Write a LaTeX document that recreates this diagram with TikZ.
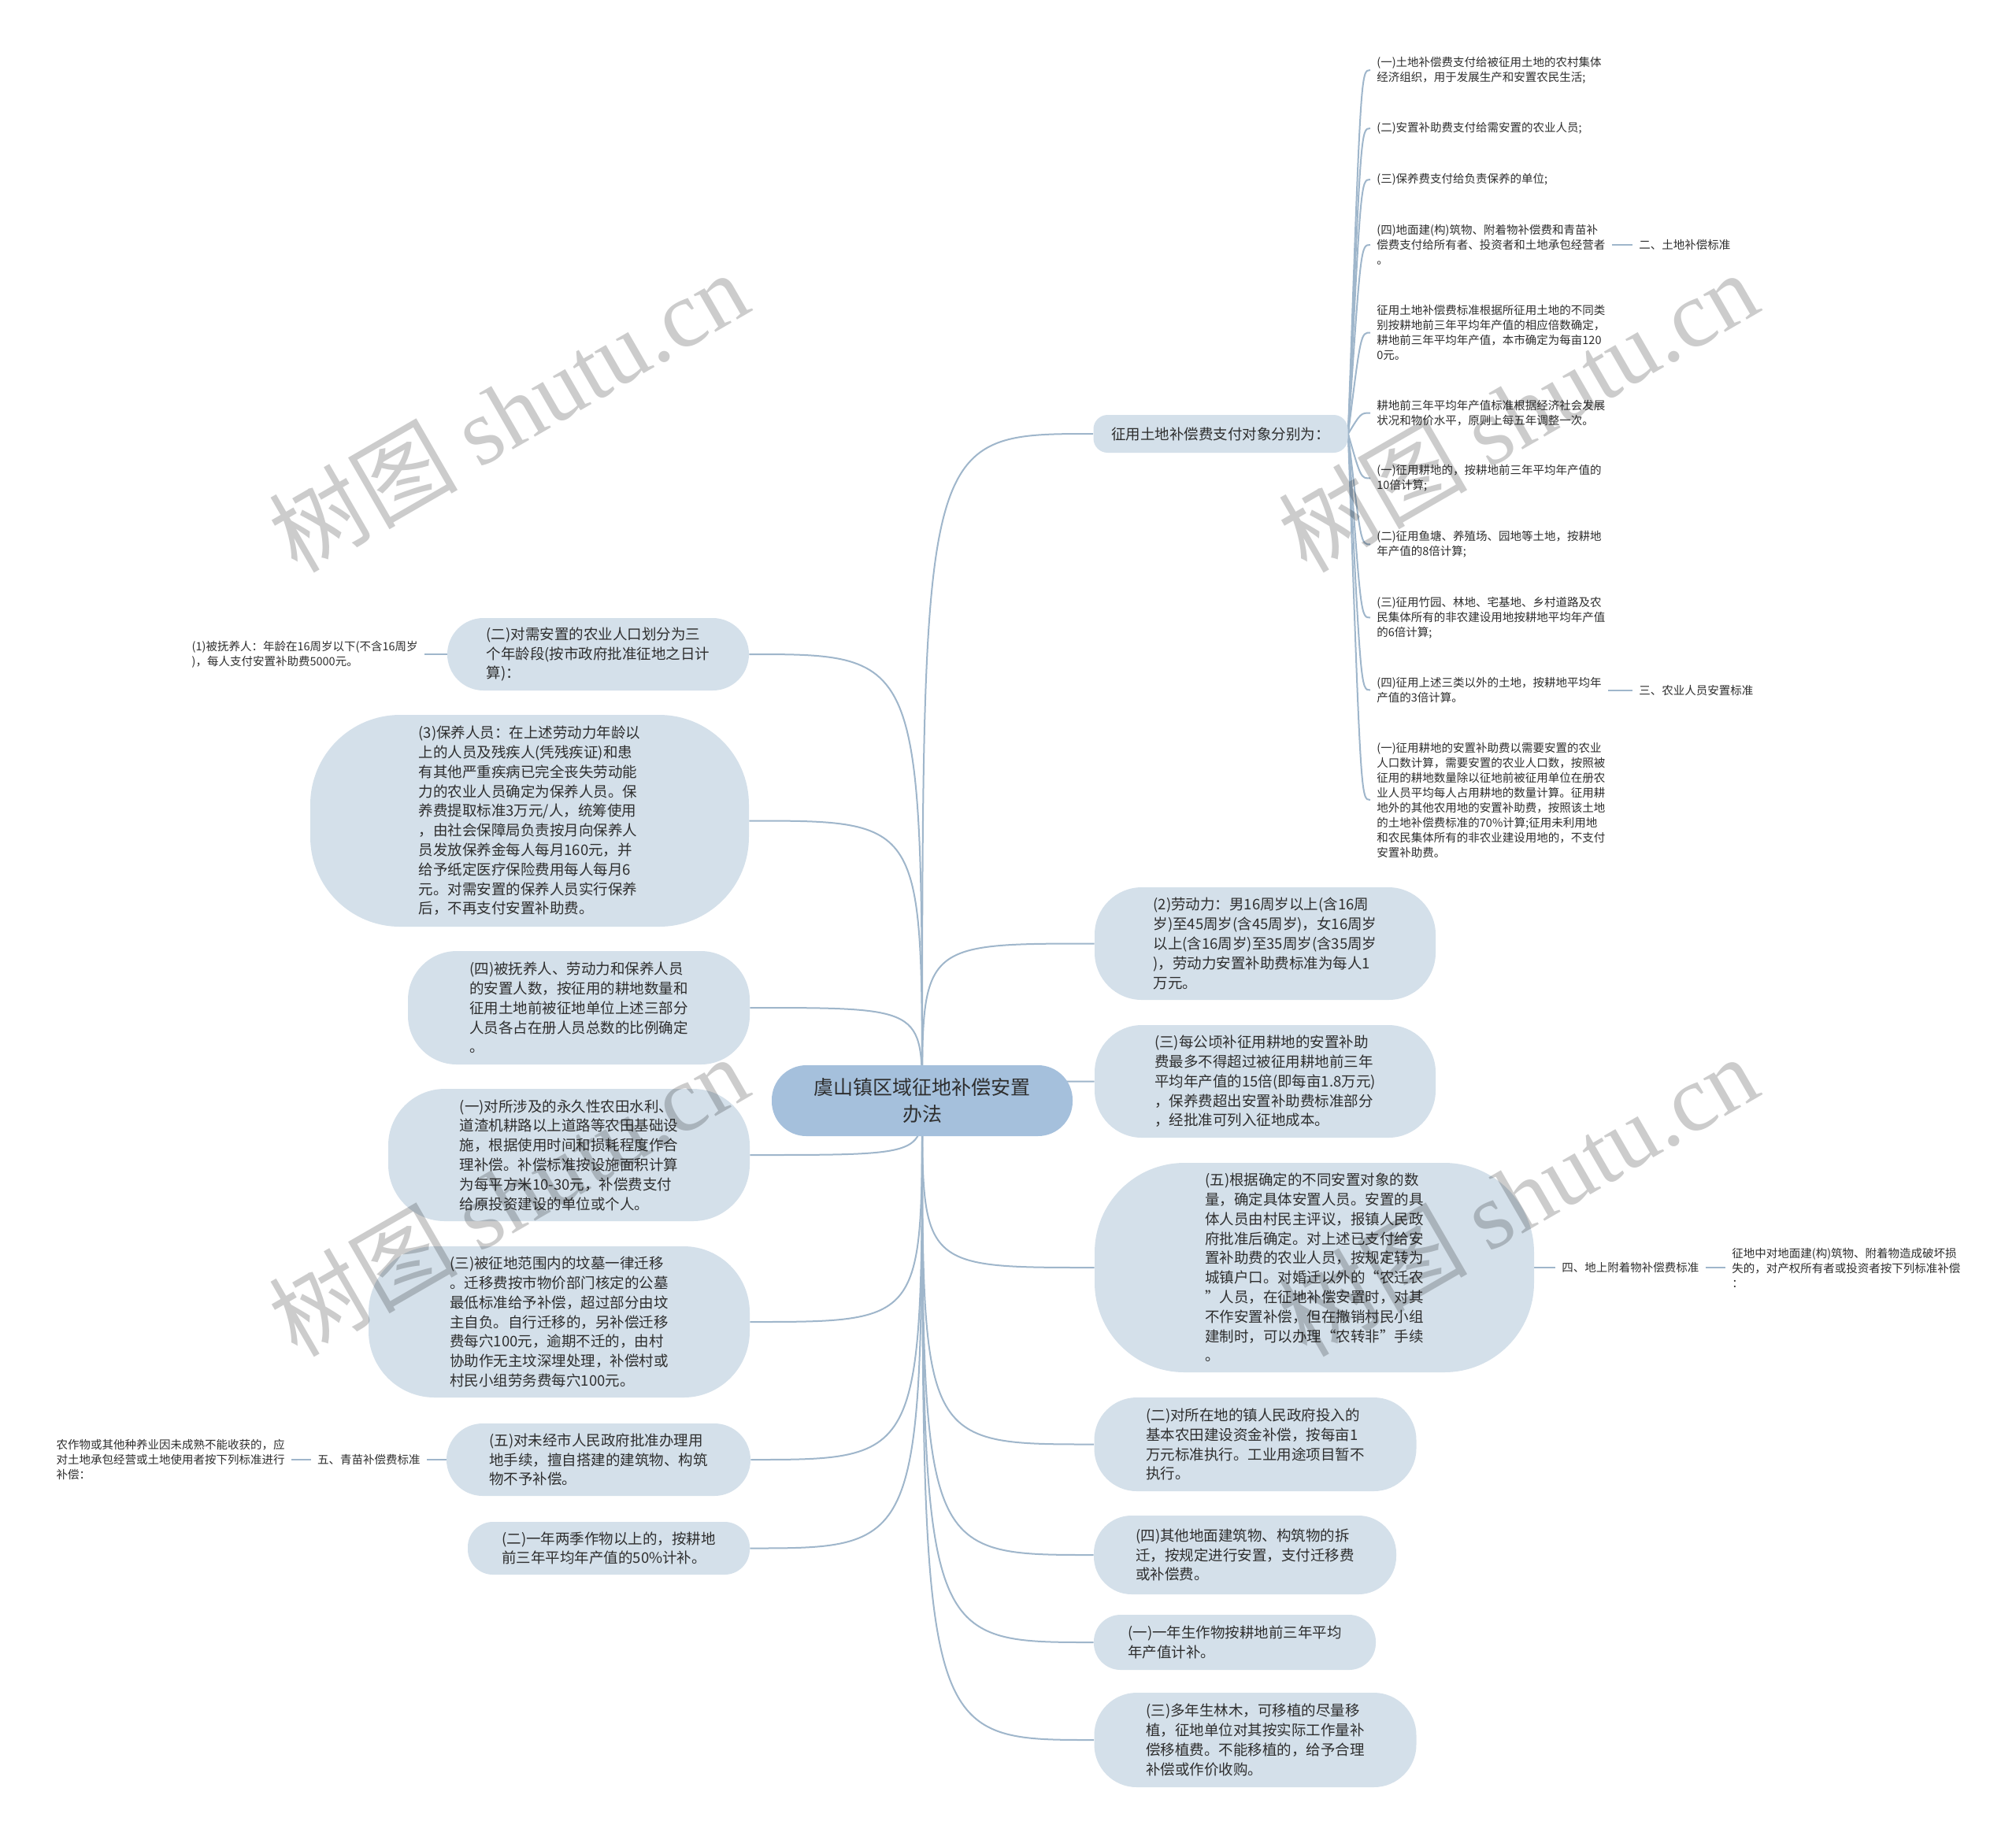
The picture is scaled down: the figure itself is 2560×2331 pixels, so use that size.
\documentclass[tikz,border=0pt]{standalone}
\usepackage{fontspec}
\setmainfont{Noto Sans CJK SC}
\newfontfamily\wmserif{Liberation Serif}
\usetikzlibrary{backgrounds}
\definecolor{bubfill}{HTML}{D4E0EA}
\definecolor{ctrfill}{HTML}{A5C0DC}
\definecolor{linkclr}{HTML}{9FB6CB}
\definecolor{txtclr}{HTML}{2E2E2E}
\tikzset{
  bubble/.style={fill=bubfill, rounded corners=#1, align=left, text=txtclr,
    font=\fontsize{9.25pt}{12.4pt}\selectfont, inner sep=0pt},
  bubble/.default=20pt,
  note/.style={align=left, text=txtclr, font=\fontsize{7.25pt}{9.5pt}\selectfont,
    inner xsep=4pt, inner ysep=0pt},
  link/.style={draw=linkclr, line width=1pt},
  wmark/.style={text=black, text opacity=0.2, rotate=30, inner sep=0pt,
    font=\fontsize{60pt}{60pt}\selectfont}
}

\begin{document}
\begin{tikzpicture}[x=0.5pt, y=-0.5pt]
  \useasboundingbox (0,0) rectangle (2560,2331);

  % root
  \node[bubble=22pt, fill=ctrfill, align=center, minimum width=191pt, minimum height=45pt,
    font=\fontsize{12.5pt}{17pt}\selectfont] (ctr) at (1171,1398) {虞山镇区域征地补偿安置\\办法};

  % right branch
  \node[bubble=9pt, minimum width=161.5pt, minimum height=24pt] (R1) at (1550,551) {征用土地补偿费支付对象分别为：};
  \node[bubble=30pt, minimum width=216.5pt, minimum height=71.5pt] (R2) at (1606.5,1198.5) {(2)劳动力：男16周岁以上(含16周\\岁)至45周岁(含45周岁)，女16周岁\\以上(含16周岁)至35周岁(含35周岁\\)，劳动力安置补助费标准为每人1\\万元。};
  \node[bubble=30pt, minimum width=216.5pt, minimum height=71.5pt] (R3) at (1606.5,1373.5) {(三)每公顷补征用耕地的安置补助\\费最多不得超过被征用耕地前三年\\平均年产值的15倍(即每亩1.8万元)\\，保养费超出安置补助费标准部分\\，经批准可列入征地成本。};
  \node[bubble=57pt, minimum width=279pt, minimum height=133pt] (R4) at (1669,1610) {(五)根据确定的不同安置对象的数\\量，确定具体安置人员。安置的具\\体人员由村民主评议，报镇人民政\\府批准后确定。对上述已支付给安\\置补助费的农业人员，按规定转为\\城镇户口。对婚迁以外的“农迁农\\”人员，在征地补偿安置时，对其\\不作安置补偿，但在撤销村民小组\\建制时，可以办理“农转非”手续\\。};
  \node[bubble=27pt, minimum width=204.5pt, minimum height=59.5pt] (R5) at (1594,1834.5) {(二)对所在地的镇人民政府投入的\\基本农田建设资金补偿，按每亩1\\万元标准执行。工业用途项目暂不\\执行。};
  \node[bubble=24pt, minimum width=192pt, minimum height=50pt] (R6) at (1581,1975) {(四)其他地面建筑物、构筑物的拆\\迁，按规定进行安置，支付迁移费\\或补偿费。};
  \node[bubble=17pt, minimum width=179pt, minimum height=35pt] (R7) at (1568,2086) {(一)一年生作物按耕地前三年平均\\年产值计补。};
  \node[bubble=27pt, minimum width=204.5pt, minimum height=60pt] (R8) at (1594,2210) {(三)多年生林木，可移植的尽量移\\植，征地单位对其按实际工作量补\\偿移植费。不能移植的，给予合理\\补偿或作价收购。};

  % left branch
  \node[bubble=23pt, minimum width=191.5pt, minimum height=46pt] (L1) at (759.5,831) {(二)对需安置的农业人口划分为三\\个年龄段(按市政府批准征地之日计\\算)：};
  \node[bubble=57pt, minimum width=278.5pt, minimum height=134.5pt] (L2) at (672.5,1042.5) {(3)保养人员：在上述劳动力年龄以\\上的人员及残疾人(凭残疾证)和患\\有其他严重疾病已完全丧失劳动能\\力的农业人员确定为保养人员。保\\养费提取标准3万元/人，统筹使用\\，由社会保障局负责按月向保养人\\员发放保养金每人每月160元，并\\给予纸定医疗保险费用每人每月6\\元。对需安置的保养人员实行保养\\后，不再支付安置补助费。};
  \node[bubble=31pt, minimum width=217pt, minimum height=72pt] (L3) at (735,1280) {(四)被抚养人、劳动力和保养人员\\的安置人数，按征用的耕地数量和\\征用土地前被征地单位上述三部分\\人员各占在册人员总数的比例确定\\。};
  \node[bubble=36pt, minimum width=229.5pt, minimum height=84pt] (L4) at (722.5,1467) {(一)对所涉及的永久性农田水利、\\道渣机耕路以上道路等农田基础设\\施，根据使用时间和损耗程度作合\\理补偿。补偿标准按设施面积计算\\为每平方米10-30元，补偿费支付\\给原投资建设的单位或个人。};
  \node[bubble=42pt, minimum width=242pt, minimum height=96pt] (L5) at (710,1679) {(三)被征地范围内的坟墓一律迁移\\。迁移费按市物价部门核定的公墓\\最低标准给予补偿，超过部分由坟\\主自负。自行迁移的，另补偿迁移\\费每穴100元，逾期不迁的，由村\\协助作无主坟深埋处理，补偿村或\\村民小组劳务费每穴100元。};
  \node[bubble=23pt, minimum width=193pt, minimum height=46pt] (L6) at (760,1854) {(五)对未经市人民政府批准办理用\\地手续，擅自搭建的建筑物、构筑\\物不予补偿。};
  \node[bubble=16pt, minimum width=179pt, minimum height=33.5pt] (L7) at (773,1966.5) {(二)一年两季作物以上的，按耕地\\前三年平均年产值的50\%计补。};

  % notes under R1
  \node[note, anchor=west] (c1) at (1740,89) {(一)土地补偿费支付给被征用土地的农村集体\\经济组织，用于发展生产和安置农民生活;};
  \node[note, anchor=west] (c2) at (1740,163) {(二)安置补助费支付给需安置的农业人员;};
  \node[note, anchor=west] (c3) at (1740,228) {(三)保养费支付给负责保养的单位;};
  \node[note, anchor=west] (c4) at (1740,311) {(四)地面建(构)筑物、附着物补偿费和青苗补\\偿费支付给所有者、投资者和土地承包经营者\\。};
  \node[note, anchor=west] (c5) at (1740,422.5) {征用土地补偿费标准根据所征用土地的不同类\\别按耕地前三年平均年产值的相应倍数确定，\\耕地前三年平均年产值，本市确定为每亩120\\0元。};
  \node[note, anchor=west] (c6) at (1740,524.5) {耕地前三年平均年产值标准根据经济社会发展\\状况和物价水平，原则上每五年调整一次。};
  \node[note, anchor=west] (c7) at (1740,607.5) {(一)征用耕地的，按耕地前三年平均年产值的\\10倍计算;};
  \node[note, anchor=west] (c8) at (1740,691.5) {(二)征用鱼塘、养殖场、园地等土地，按耕地\\年产值的8倍计算;};
  \node[note, anchor=west] (c9) at (1740,784.5) {(三)征用竹园、林地、宅基地、乡村道路及农\\民集体所有的非农建设用地按耕地平均年产值\\的6倍计算;};
  \node[note, anchor=west] (c10) at (1740,876.5) {(四)征用上述三类以外的土地，按耕地平均年\\产值的3倍计算。};
  \node[note, anchor=west] (c11) at (1740,1016) {(一)征用耕地的安置补助费以需要安置的农业\\人口数计算，需要安置的农业人口数，按照被\\征用的耕地数量除以征地前被征用单位在册农\\业人员平均每人占用耕地的数量计算。征用耕\\地外的其他农用地的安置补助费，按照该土地\\的土地补偿费标准的70\%计算;征用未利用地\\和农民集体所有的非农业建设用地的，不支付\\安置补助费。};
  \node[note, anchor=west] (lab2) at (2073,311) {二、土地补偿标准};
  \node[note, anchor=west] (lab3) at (2073,876.5) {三、农业人员安置标准};

  % other notes
  \node[note, anchor=west] (lab4) at (1975,1610) {四、地上附着物补偿费标准};
  \node[note, anchor=west] (nt4) at (2191,1610) {征地中对地面建(构)筑物、附着物造成破坏损\\失的，对产权所有者或投资者按下列标准补偿\\：};
  \node[note, anchor=east] (nt1) at (539,831) {(1)被抚养人：年龄在16周岁以下(不含16周岁\\)，每人支付安置补助费5000元。};
  \node[note, anchor=east] (lab5) at (542,1854) {五、青苗补偿费标准};
  \node[note, anchor=east] (nt5) at (370,1854) {农作物或其他种养业因未成熟不能收获的，应\\对土地承包经营或土地使用者按下列标准进行\\补偿：};

  \coordinate (r1x) at (1728,551);

  \begin{scope}[on background layer]
    \fill[white] (0,0) rectangle (2560,2331);
    \foreach \n in {R1,R2,R3,R4,R5,R6,R7,R8}
      \draw[link] (ctr.center) .. controls (ctr.center |- \n.west) .. (\n.west);
    \foreach \n in {L1,L2,L3,L4,L5,L6,L7}
      \draw[link] (ctr.center) .. controls (ctr.center |- \n.east) .. (\n.east);
    \foreach \k in {1,...,11}
      \draw[link] (R1.east) .. controls (r1x |- c\k.west) .. (c\k.west);
    \draw[link] (c4.east) -- (lab2.west);
    \draw[link] (c10.east) -- (lab3.west);
    \draw[link] (R4.east) -- (lab4.west);
    \draw[link] (lab4.east) -- (nt4.west);
    \draw[link] (L1.west) -- (nt1.east);
    \draw[link] (L6.west) -- (lab5.east);
    \draw[link] (lab5.west) -- (nt5.east);
  \end{scope}

  % watermark
  \node[wmark] (wm1) at (645,522) {树图 {\wmserif shutu.cn}};
  \node[wmark] (wm2) at (1927,522) {树图 {\wmserif shutu.cn}};
  \node[wmark] (wm3) at (645,1518) {树图 {\wmserif shutu.cn}};
  \node[wmark] (wm4) at (1927,1518) {树图 {\wmserif shutu.cn}};
\end{tikzpicture}
\end{document}
